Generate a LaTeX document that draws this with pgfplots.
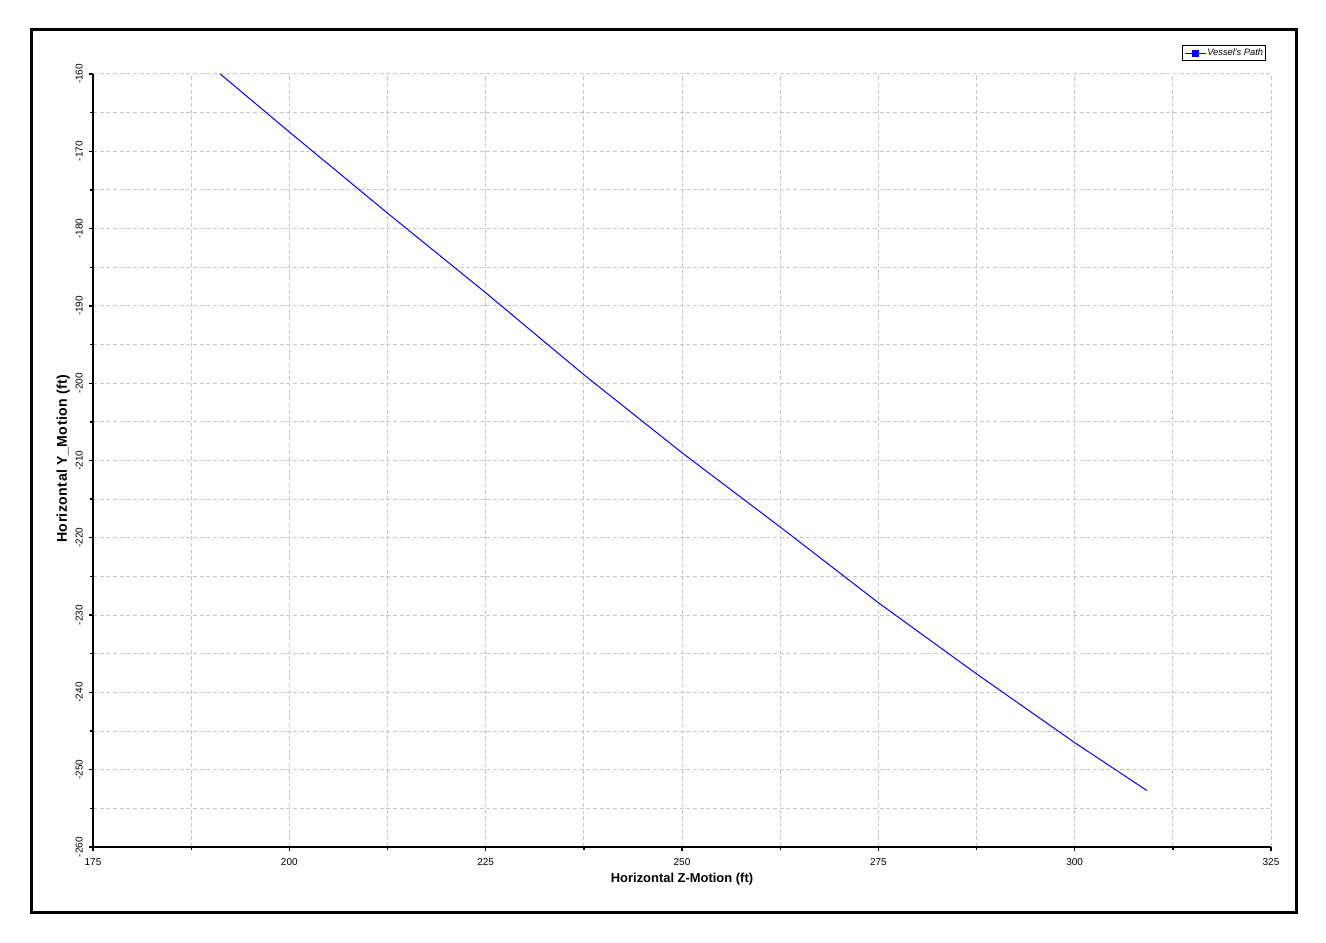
\documentclass[border=0pt]{standalone}
\usepackage{fontspec}
\setmainfont{Liberation Sans}
\usepackage{pgfplots}
\pgfplotsset{compat=1.18}
\definecolor{gridgray}{RGB}{200,200,200}
\begin{document}
\begin{tikzpicture}
\useasboundingbox (-69.75pt,-71.25pt) rectangle (924.75pt,635.25pt);
\fill[white] (-69.75pt,-71.25pt) rectangle (924.75pt,635.25pt);
\begin{axis}[
  scale only axis,
  width=883.5pt, height=579.75pt,
  xmin=175, xmax=325, ymin=-260, ymax=-160,
  axis x line*=bottom, axis y line*=left,
  axis line style={line width=1.5pt, black},
  xtick={175,200,225,250,275,300,325},
  xticklabels={175,200,225,250,275,300,325},
  ytick={-260,-250,-240,-230,-220,-210,-200,-190,-180,-170,-160},
  yticklabels={-260,-250,-240,-230,-220,-210,-200,-190,-180,-170,-160},
  minor tick num=1,
  tick align=outside,
  major tick length=3pt, minor tick length=2.25pt,
  every tick/.style={black, line width=1pt},
  grid=both,
  major grid style={gridgray, line width=0.75pt, dash pattern=on 3pt off 2pt},
  minor grid style={gridgray, line width=0.75pt, dash pattern=on 3pt off 2pt},
  tick label style={font=\fontsize{7.5}{8}\selectfont},
  xticklabel style={yshift=-2pt},
  yticklabel style={xshift=-1.2pt, rotate=90, anchor=south},
  every axis x label/.style={at={([yshift=-26.5pt]axis description cs:0.5,0)}, anchor=base},
  every axis y label/.style={at={([xshift=-19.5pt, yshift=1.5pt]axis description cs:0,0.5)}, rotate=90, anchor=base},
  label style={font=\fontsize{9.7}{11}\selectfont\bfseries},
  xlabel={Horizontal Z-Motion (ft)},
  ylabel={\fontsize{10.6}{12}\selectfont\addfontfeatures{LetterSpace=3}Horizontal Y\_Motion (ft)},
  legend style={at={([xshift=-3.5pt,yshift=21.75pt]axis description cs:1,1)}, anchor=north east,
    font=\fontsize{7}{8}\selectfont\itshape, draw=black, line width=0.75pt,
    inner xsep=1.5pt, inner ysep=2pt, nodes={inner sep=0.5pt}},
  legend image code/.code={
    \draw[blue, line width=0.75pt] (0pt,0pt) -- (15.75pt,0pt);
    \fill[blue] (5.6pt,-2.2pt) rectangle (10.1pt,2.2pt);
  },
]
\addplot[blue, line width=0.75pt, mark=none] coordinates {
  (191.2,-160.0)
  (200.0,-167.5)
  (212.5,-178.0)
  (225.0,-188.3)
  (237.5,-198.9)
  (250.0,-209.0)
  (262.5,-218.6)
  (275.0,-228.4)
  (287.5,-237.6)
  (300.0,-246.5)
  (309.2,-252.7)
};
\addlegendentry{Vessel\textquotesingle s Path}
\end{axis}
\draw[black, line width=2.25pt] (-45.75pt,-48.75pt) rectangle (902.25pt,612.75pt);
\end{tikzpicture}
\end{document}
